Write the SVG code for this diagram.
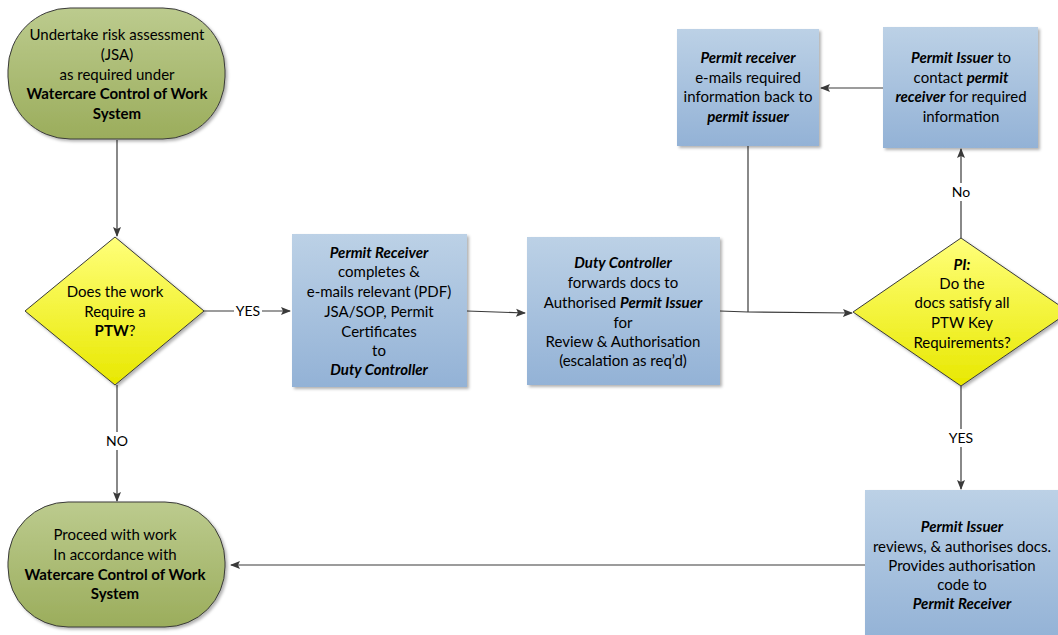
<svg xmlns="http://www.w3.org/2000/svg" width="1058" height="635" viewBox="0 0 1058 635">
  <defs>
    <linearGradient id="gGreen" x1="0" y1="0" x2="0" y2="1">
      <stop offset="0" stop-color="#bccb8e"/>
      <stop offset="1" stop-color="#9bad5c"/>
    </linearGradient>
    <linearGradient id="gYellow" x1="0" y1="0" x2="0" y2="1">
      <stop offset="0" stop-color="#ffff7a"/>
      <stop offset="1" stop-color="#e8e800"/>
    </linearGradient>
    <linearGradient id="gBlue" x1="0" y1="0" x2="0" y2="1">
      <stop offset="0" stop-color="#bcd1e6"/>
      <stop offset="1" stop-color="#93b2d6"/>
    </linearGradient>
    <filter id="shadow" x="-10%" y="-10%" width="130%" height="130%">
      <feDropShadow dx="2" dy="2" stdDeviation="1.5" flood-color="#000" flood-opacity="0.3"/>
    </filter>
    <marker id="arrow" viewBox="0 0 10 10" refX="9" refY="5" markerWidth="10" markerHeight="10" markerUnits="userSpaceOnUse" orient="auto">
      <path d="M0,1 L10,5 L0,9 L2,5 z" fill="#3a3a3a"/>
    </marker>
  </defs>
  <style>
    text { font-family: Lato, "Liberation Sans", sans-serif; font-size: 15px; fill: #000; text-anchor: middle; }
    .b { font-weight: bold; }
    .bi { font-weight: bold; font-style: italic; }
    .term { fill: url(#gGreen); stroke: #3a3a3a; stroke-width: 1; filter: url(#shadow); }
    .dec { fill: url(#gYellow); stroke: #3a3a3a; stroke-width: 1; filter: url(#shadow); }
    .proc { fill: url(#gBlue); stroke: none; filter: url(#shadow); }
    .conn { fill: none; stroke: #3a3a3a; stroke-width: 1.2; }
    .arr { marker-end: url(#arrow); }
    .lbl { font-size: 14px; }
  </style>

  <rect width="1058" height="635" fill="#ffffff"/>

  <!-- connectors -->
  <g id="connectors">
    <path class="conn arr" d="M117,140 L117,236"/>
    <path class="conn arr" d="M203,311 L290,311"/>
    <path class="conn arr" d="M467,311 L525,313"/>
    <path class="conn" d="M720,311 L748,312"/>
    <path class="conn" d="M748,146 L748,312"/>
    <path class="conn arr" d="M748,312 L852,313"/>
    <path class="conn arr" d="M961,238 L961,149"/>
    <path class="conn arr" d="M883,88 L821,88"/>
    <path class="conn arr" d="M961,386 L961,489"/>
    <path class="conn arr" d="M117,385 L117,501"/>
    <path class="conn arr" d="M865,565 L231,565"/>
    <!-- labels on connectors, drawn over a white gap -->
    <rect x="234" y="302" width="28" height="18" fill="#fff"/>
    <text class="lbl" x="248" y="316">YES</text>
    <rect x="102" y="432" width="30" height="18" fill="#fff"/>
    <text class="lbl" x="117" y="446">NO</text>
    <rect x="949" y="183" width="24" height="18" fill="#fff"/>
    <text class="lbl" x="961" y="197">No</text>
    <rect x="947" y="429" width="28" height="18" fill="#fff"/>
    <text class="lbl" x="961" y="443">YES</text>
  </g>

  <!-- start terminator -->
  <g id="start">
    <rect class="term" x="8" y="8" width="217" height="131" rx="62" ry="62"/>
    <text x="117" y="40">Undertake risk assessment</text>
    <text x="117" y="60">(JSA)</text>
    <text x="117" y="80">as required under</text>
    <text class="b" x="117" y="99">Watercare Control of Work</text>
    <text class="b" x="117" y="119">System</text>
  </g>

  <!-- decision: PTW required -->
  <g id="needPTW">
    <polygon class="dec" points="115,237 204,311 115,385 25,311"/>
    <text x="115" y="297">Does the work</text>
    <text x="115" y="317">Require a</text>
    <text x="115" y="336"><tspan class="b">PTW</tspan>?</text>
  </g>

  <!-- permit receiver submits -->
  <g id="receiverSubmits">
    <rect class="proc" x="292" y="234" width="175" height="153"/>
    <text class="bi" x="379" y="258">Permit Receiver</text>
    <text x="379" y="277">completes &amp;</text>
    <text x="379" y="297">e-mails relevant (PDF)</text>
    <text x="379" y="317">JSA/SOP, Permit</text>
    <text x="379" y="337">Certificates</text>
    <text x="379" y="356">to</text>
    <text class="bi" x="379" y="375">Duty Controller</text>
  </g>

  <!-- duty controller forwards -->
  <g id="dutyController">
    <rect class="proc" x="527" y="237" width="193" height="148"/>
    <text class="bi" x="623" y="268">Duty Controller</text>
    <text x="623" y="288">forwards docs to</text>
    <text x="623" y="308">Authorised <tspan class="bi">Permit Issuer</tspan></text>
    <text x="623" y="328">for</text>
    <text x="623" y="347">Review &amp; Authorisation</text>
    <text x="623" y="366">(escalation as req’d)</text>
  </g>

  <!-- permit receiver replies -->
  <g id="receiverReplies">
    <rect class="proc" x="677" y="29" width="142" height="117"/>
    <text class="bi" x="748" y="63">Permit receiver</text>
    <text x="748" y="83">e-mails required</text>
    <text x="748" y="102">information back to</text>
    <text class="bi" x="748" y="122">permit issuer</text>
  </g>

  <!-- permit issuer requests info -->
  <g id="issuerContacts">
    <rect class="proc" x="883" y="27" width="155" height="121"/>
    <text x="961" y="63"><tspan class="bi">Permit Issuer</tspan> to</text>
    <text x="961" y="83">contact <tspan class="bi">permit</tspan></text>
    <text x="961" y="102"><tspan class="bi">receiver</tspan> for required</text>
    <text x="961" y="122">information</text>
  </g>

  <!-- decision: docs satisfy requirements -->
  <g id="docsOK">
    <polygon class="dec" points="961,238 1069,312 961,386 853,312"/>
    <text class="bi" x="962" y="270">PI:</text>
    <text x="962" y="289">Do the</text>
    <text x="962" y="308">docs satisfy all</text>
    <text x="962" y="328">PTW Key</text>
    <text x="962" y="348">Requirements?</text>
  </g>

  <!-- permit issuer authorises -->
  <g id="issuerAuthorises">
    <rect class="proc" x="865" y="490" width="196" height="150"/>
    <text class="bi" x="962" y="532">Permit Issuer</text>
    <text x="962" y="552">reviews, &amp; authorises docs.</text>
    <text x="962" y="571">Provides authorisation</text>
    <text x="962" y="590">code to</text>
    <text class="bi" x="962" y="609">Permit Receiver</text>
  </g>

  <!-- end terminator -->
  <g id="proceed">
    <rect class="term" x="8" y="502" width="217" height="125" rx="60" ry="60"/>
    <text x="115" y="540">Proceed with work</text>
    <text x="115" y="560">In accordance with</text>
    <text class="b" x="115" y="580">Watercare Control of Work</text>
    <text class="b" x="115" y="599">System</text>
  </g>
</svg>
